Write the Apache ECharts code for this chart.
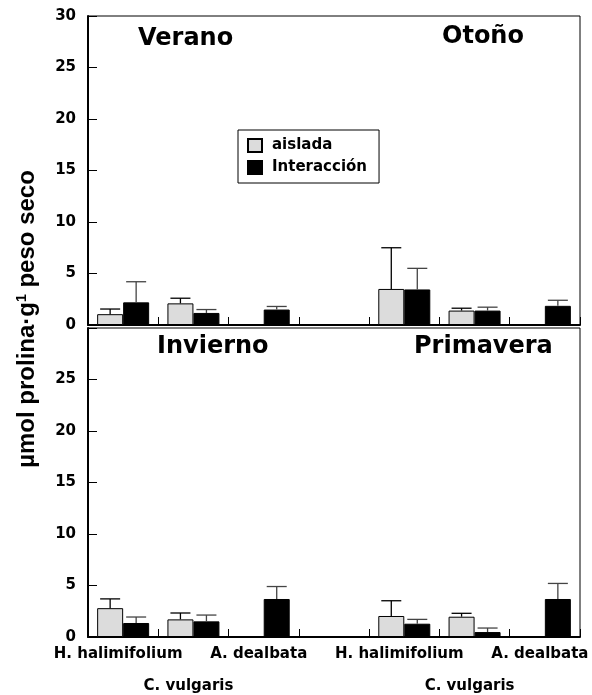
<!DOCTYPE html>
<html>
<head>
<meta charset="utf-8">
<script src="https://cdn.jsdelivr.net/npm/echarts@6/dist/echarts.min.js"></script>
<style>
html,body{margin:0;padding:0;background:#fff;}
#chart{width:592px;height:695px;}
</style>
</head>
<body>
<div id="chart"></div>
<script>
// ---- data ----
const categories = ['H. halimifolium', 'C. vulgaris', 'A. dealbata', '', 'H. halimifolium', 'C. vulgaris', 'A. dealbata'];
const seriesNames = ['aislada', 'Interacción'];
const seasonTitles = ['Verano', 'Otoño', 'Invierno', 'Primavera'];
const yTicks = [0, 5, 10, 15, 20, 25, 30];

// top panel (Verano: cats 0-2, Otoño: cats 4-6)
const topAislada   = [1.05, 2.10, null, null, 3.50, 1.40, null];
const topAisladaSd = [0.50, 0.50, null, null, 4.00, 0.23, null];
const topInter     = [2.20, 1.17, 1.50, null, 3.45, 1.40, 1.86];
const topInterSd   = [2.00, 0.33, 0.30, null, 2.05, 0.33, 0.54];
// bottom panel (Invierno: cats 0-2, Primavera: cats 4-6)
const botAislada   = [2.80, 1.71, null, null, 2.04, 1.97, null];
const botAisladaSd = [0.90, 0.62, null, null, 1.48, 0.33, null];
const botInter     = [1.36, 1.52, 3.69, null, 1.29, 0.48, 3.69];
const botInterSd   = [0.58, 0.61, 1.21, null, 0.42, 0.39, 1.51];

const FONT = 'DejaVu Sans';
const BAR_W = 26;

function errData(vals, sds) {
  const out = [];
  vals.forEach((v, i) => { if (v != null && sds[i] != null) out.push([i, v, sds[i]]); });
  return out;
}
function errRender(offset, color) {
  return function (params, api) {
    const c = api.value(0), v = api.value(1), e = api.value(2);
    const base = api.coord([c, v]);
    const top = api.coord([c, v + e]);
    const x = base[0] + offset;
    return {
      type: 'group',
      children: [
        { type: 'line', shape: { x1: x, y1: base[1], x2: x, y2: top[1] }, style: { stroke: color, lineWidth: 1.3 } },
        { type: 'line', shape: { x1: x - 10, y1: top[1], x2: x + 10, y2: top[1] }, style: { stroke: color, lineWidth: 1.3 } }
      ]
    };
  };
}

function makeX(gi, showLabels) {
  return {
    type: 'category', gridIndex: gi, data: categories, boundaryGap: true,
    axisLine: { show: true, lineStyle: { color: '#000', width: 2 } },
    axisTick: { show: true, inside: true, length: 8, lineStyle: { color: '#000', width: 1 } },
    axisLabel: {
      show: showLabels, interval: 0, margin: 9, color: '#000',
      fontFamily: FONT, fontWeight: 'bold', fontSize: 15, lineHeight: 16,
      padding: [0, 10, 0, 0], hideOverlap: false,
      formatter: function (val, idx) {
        if (val === 'C. vulgaris') return '\n\n' + val;
        return val;
      }
    },
    splitLine: { show: false }
  };
}
function makeY(gi, hideMax) {
  return {
    type: 'value', gridIndex: gi, min: yTicks[0], max: yTicks[yTicks.length - 1], interval: 5,
    axisLine: { show: true, lineStyle: { color: '#000', width: 2 } },
    axisTick: { show: true, inside: true, length: 9, lineStyle: { color: '#000', width: 1 } },
    axisLabel: {
      margin: 12, color: '#000', fontFamily: FONT, fontWeight: 'bold', fontSize: 15,
      formatter: function (v) { return (hideMax && v === 30) ? '' : String(v); }
    },
    splitLine: { show: false }
  };
}

function panelSeries(gi, aisl, aislSd, inter, interSd) {
  return [
    { name: seriesNames[0], type: 'bar', xAxisIndex: gi, yAxisIndex: gi, data: aisl,
      barWidth: BAR_W, barGap: '0%',
      itemStyle: { color: '#dcdcdc', borderColor: '#000', borderWidth: 1 } },
    { name: seriesNames[1], type: 'bar', xAxisIndex: gi, yAxisIndex: gi, data: inter,
      barWidth: BAR_W, barGap: '0%',
      itemStyle: { color: '#000', borderColor: '#000', borderWidth: 1 } },
    { name: 'errA' + gi, type: 'custom', xAxisIndex: gi, yAxisIndex: gi, z: 5,
      data: errData(aisl, aislSd), renderItem: errRender(-BAR_W / 2, '#000') },
    { name: 'errI' + gi, type: 'custom', xAxisIndex: gi, yAxisIndex: gi, z: 5,
      data: errData(inter, interSd), renderItem: errRender(BAR_W / 2, '#444') }
  ];
}

const chart = echarts.init(document.getElementById('chart'), null, { renderer: 'canvas' });
const titleStyle = { fontFamily: FONT, fontWeight: 'bold', fontSize: 24, color: '#000' };
chart.setOption({
  animation: false,
  backgroundColor: '#fff',
  title: [
    { text: seasonTitles[0], left: 138, top: 27, padding: 0, textStyle: titleStyle },
    { text: seasonTitles[1], left: 442, top: 25, padding: 0, textStyle: titleStyle },
    { text: seasonTitles[2], left: 157, top: 335, padding: 0, textStyle: titleStyle },
    { text: seasonTitles[3], left: 414, top: 335, padding: 0, textStyle: titleStyle }
  ],
  legend: {
    data: seriesNames, orient: 'vertical', left: 238, top: 130,
    icon: 'rect', itemWidth: 14, itemHeight: 13, itemGap: 7,
    padding: [8, 12, 8, 9],
    backgroundColor: '#fff', borderColor: '#000', borderWidth: 1,
    textStyle: { fontFamily: FONT, fontWeight: 'bold', fontSize: 15, color: '#000', padding: [0, 0, 0, 5] }
  },
  grid: [
    { left: 88, right: 12, top: 16, height: 309, show: true, borderColor: '#000', borderWidth: 1, outerBoundsMode: 'none', containLabel: false },
    { left: 88, right: 12, top: 328, height: 309, show: true, borderColor: '#000', borderWidth: 1, outerBoundsMode: 'none', containLabel: false }
  ],
  xAxis: [makeX(0, false), makeX(1, true)],
  yAxis: [makeY(0, false), makeY(1, true)],
  graphic: [
    {
      type: 'text', x: 27, y: 319, rotation: Math.PI / 2,
      style: {
        text: '{a|µmol prolina·g}{s|1}{a| peso seco}',
        align: 'center', verticalAlign: 'middle',
        rich: {
          a: { fontFamily: 'Liberation Sans', fontWeight: 'bold', fontSize: 24, fill: '#000' },
          s: { fontFamily: 'Liberation Sans', fontWeight: 'bold', fontSize: 14, fill: '#000', verticalAlign: 'top', padding: [0, 0, 8, 0] }
        }
      }
    }
  ],
  series: [].concat(
    panelSeries(0, topAislada, topAisladaSd, topInter, topInterSd),
    panelSeries(1, botAislada, botAisladaSd, botInter, botInterSd)
  )
});
</script>
</body>
</html>
